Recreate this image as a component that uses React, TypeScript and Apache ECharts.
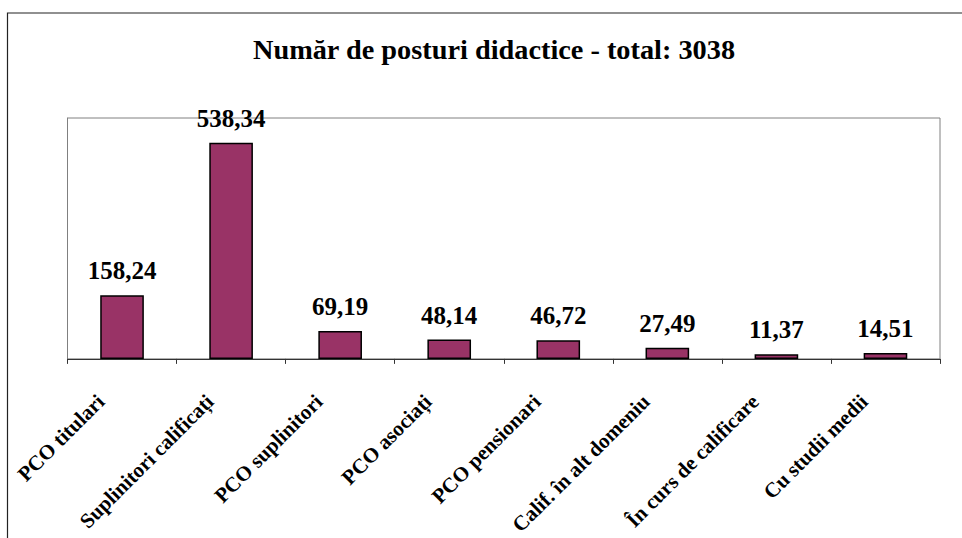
import React, { useEffect, useRef } from "react";
import * as echarts from "echarts";

const categories = [
  "PCO titulari",
  "Suplinitori califica\u021Bi",
  "PCO suplinitori",
  "PCO asocia\u021Bi",
  "PCO pensionari",
  "Calif. \u00EEn alt domeniu",
  "\u00CEn curs de calificare",
  "Cu studii medii",
];
const values = [158.24, 538.34, 69.19, 48.14, 46.72, 27.49, 11.37, 14.51];
const titleText = "Num\u0103r de posturi didactice - total: 3038";

const FONT = "'Liberation Serif', 'Times New Roman', serif";

export default function App() {
  const ref = useRef<HTMLDivElement>(null);
  useEffect(() => {
    if (!ref.current) return;
    const chart = echarts.init(ref.current, undefined, { renderer: "svg" });
    chart.setOption({
      animation: false,
      backgroundColor: "#ffffff",
      grid: {
        left: 67.5,
        top: 118,
        right: 22,
        bottom: 178,
        show: true,
        borderColor: "#808080",
        borderWidth: 1,
        containLabel: false,
      },
      graphic: [
        {
          type: "rect",
          shape: { x: 7.5, y: 13, width: 1200, height: 1200 },
          style: { fill: "none", stroke: "#222", lineWidth: 1.2 },
          silent: true,
        },
        {
          type: "text",
          x: 494,
          y: 35,
          style: {
            text: titleText,
            font: `bold 28.3px ${FONT}`,
            fill: "#000",
            textAlign: "center",
            textVerticalAlign: "top",
          },
        },
      ],
      xAxis: {
        type: "category",
        data: categories,
        boundaryGap: true,
        axisLine: { show: true, lineStyle: { color: "#333", width: 1 } },
        axisTick: { show: true, length: 5, lineStyle: { color: "#333" } },
        axisLabel: {
          interval: 0,
          rotate: 45,
          margin: 18,
          padding: [0, 30, 0, 0],
          fontFamily: FONT,
          fontWeight: "bold",
          fontSize: 21,
          color: "#000",
        },
      },
      yAxis: {
        type: "value",
        min: 0,
        max: 600,
        axisLine: { show: true, lineStyle: { color: "#808080" } },
        axisTick: { show: false },
        axisLabel: { show: false },
        splitLine: { show: false },
      },
      series: [
        {
          type: "bar",
          data: values,
          barCategoryGap: "60%",
          itemStyle: { color: "#993366", borderColor: "#000", borderWidth: 1.5 },
          label: {
            show: true,
            position: "top",
            distance: 12,
            fontFamily: FONT,
            fontWeight: "bold",
            fontSize: 25,
            color: "#000",
            formatter: (p: any) => Number(p.value).toFixed(2).replace(".", ","),
          },
        },
      ],
    });
    return () => chart.dispose();
  }, []);
  return (
    <div
      ref={ref}
      style={{ position: "absolute", left: 0, top: 0, width: 962, height: 538, background: "#fff" }}
    />
  );
}
